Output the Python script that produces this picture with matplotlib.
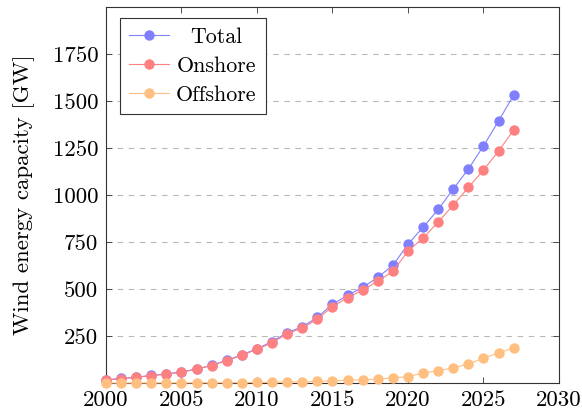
import matplotlib
matplotlib.use("Agg")
import matplotlib.pyplot as plt
from matplotlib.transforms import Affine2D

plt.rcParams["font.family"] = "serif"
plt.rcParams["font.serif"] = ["cmr10", "DejaVu Serif"]
plt.rcParams["axes.formatter.use_mathtext"] = True
plt.rcParams["mathtext.fontset"] = "cm"

years = list(range(2000, 2028))
total = [17, 24, 31, 40, 48, 59, 74, 94, 121, 150, 182, 220, 268, 299, 349, 419,
         466, 509, 562, 626, 738, 828, 923, 1032, 1138, 1261, 1394, 1532]
onshore = [16, 23, 30, 39, 47, 58, 73, 93, 119, 147, 179, 214, 262, 292, 340, 406,
           454, 494, 541, 594, 702, 771, 856, 947, 1040, 1133, 1234, 1346]
offshore = [0, 0, 0, 0.5, 0.6, 0.7, 0.9, 1.1, 1.5, 2, 3, 4, 5, 7, 8, 12,
            14, 18, 21, 27, 34, 53, 65, 81, 101, 132, 160, 186]

series_names = ["Total", "Onshore", "Offshore"]
series_colors = ["#8080ff", "#ff8080", "#ffbf80"]

xticks = [2000, 2005, 2010, 2015, 2020, 2025, 2030]
yticks = [250, 500, 750, 1000, 1250, 1500, 1750]

fig = plt.figure(figsize=(5.82, 4.12), dpi=100)
ax = fig.add_axes([0.182, 0.0704, 0.7785, 0.9126])

for vals, name, col in zip([total, onshore, offshore], series_names, series_colors):
    ax.plot(years, vals, color=col, lw=0.8, marker="o", markersize=7.5,
            markeredgewidth=0, label=name, zorder=3, clip_on=False)

ax.set_xlim(2000, 2030)
ax.set_ylim(0, 2000)
ax.set_xticks(xticks)
ax.set_xticklabels([str(t) for t in xticks])
ax.set_yticks(yticks)
ax.set_yticklabels([str(t) for t in yticks])
ax.tick_params(direction="in", length=4, width=0.6, top=True, right=True,
               labelsize=16.5, colors="#333333", labelcolor="black", pad=5.5)
ax.tick_params(axis="x", pad=5.5)
ax.grid(axis="y", color="#b8b8b8", lw=0.8, linestyle=(0, (5, 5)))
for s in ax.spines.values():
    s.set_linewidth(0.8)
    s.set_color("#333333")

ax.set_ylabel("Wind energy capacity [GW]", fontsize=16.5, labelpad=13)

leg = ax.legend(loc="upper left", bbox_to_anchor=(0.031, 0.971), fontsize=15.8,
                frameon=True, fancybox=False, edgecolor="#333333",
                framealpha=1, handlelength=1.8, handletextpad=0.33,
                borderpad=0.42, labelspacing=0.44, borderaxespad=0)
leg.get_frame().set_linewidth(0.8)

# centre the legend labels within the label column
fig.canvas.draw()
renderer = fig.canvas.get_renderer()
texts = leg.get_texts()
widths = [t.get_window_extent(renderer).width for t in texts]
wmax = max(widths)
for t, w in zip(texts, widths):
    dx = (wmax - w) / 2.0
    if dx > 0.5:
        t.set_transform(t.get_transform() + Affine2D().translate(dx, 0))

fig.savefig("out.png", dpi=100)
